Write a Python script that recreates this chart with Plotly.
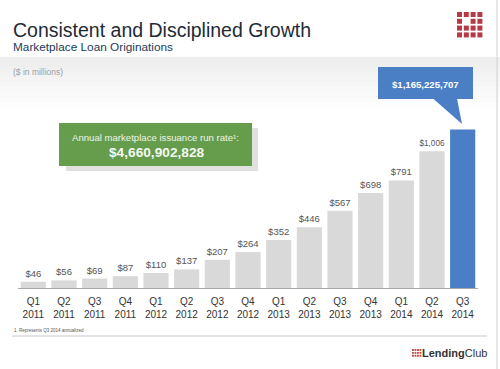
import plotly.graph_objects as go

quarters = ["Q1<br>2011", "Q2<br>2011", "Q3<br>2011", "Q4<br>2011",
            "Q1<br>2012", "Q2<br>2012", "Q3<br>2012", "Q4<br>2012",
            "Q1<br>2013", "Q2<br>2013", "Q3<br>2013", "Q4<br>2013",
            "Q1<br>2014", "Q2<br>2014", "Q3<br>2014"]
originations = [46, 56, 69, 87, 110, 137, 207, 264, 352, 446, 567, 698, 791, 1006, 1165.2]
value_labels = ["$46", "$56", "$69", "$87", "$110", "$137", "$207", "$264",
                "$352", "$446", "$567", "$698", "$791", "$1,006", ""]
bar_colors = ["#d9d9d9"] * 14 + ["#4a7fc6"]

W, H = 500, 369
L, R, T, B = 18, 22, 60, 81
PW, PH = W - L - R, H - T - B
FONT = "Liberation Sans, Arial, sans-serif"


def px(x, y):
    return (x - L) / PW, (H - B - y) / PH


fig = go.Figure()
fig.add_trace(go.Bar(
    x=quarters, y=originations, marker_color=bar_colors, marker_line_width=0,
    text=value_labels, textposition="outside", cliponaxis=False,
    textfont=dict(size=9.5, color="#555555", family=FONT),
    width=0.82, hoverinfo="skip"))

shapes = []
annotations = []

# light gray band below header
steps = 10
for i in range(steps):
    y0 = 57 + i * 5
    g = int(238 + (255 - 238) * i / steps)
    c = f"rgb({g},{g},{g})"
    x0p, y0p = px(0, y0)
    x1p, y1p = px(W, y0 + 5)
    shapes.append(dict(type="rect", xref="paper", yref="paper", x0=x0p, x1=x1p,
                       y0=y0p, y1=y1p, fillcolor=c, line_width=0, layer="below"))

# right border line
a, b0 = px(497, 0)
_, b1 = px(497, H)
shapes.append(dict(type="line", xref="paper", yref="paper", x0=a, x1=a, y0=b0, y1=b1,
                   line=dict(color="#d0d0d0", width=1)))

# header logo grid
cell, gap = 5, 1.8
for r in range(4):
    for c in range(4):
        if r == 1 and c == 1:
            continue
        x0 = 457 + c * (cell + gap)
        y0 = 12 + r * (cell + gap)
        ax0, ay0 = px(x0, y0)
        ax1, ay1 = px(x0 + cell, y0 + cell)
        shapes.append(dict(type="rect", xref="paper", yref="paper", x0=ax0, x1=ax1,
                           y0=ay1, y1=ay0, fillcolor="#b53a45", line_width=0))

# green box shadow & box
sx0, sy0 = px(66, 128)
sx1, sy1 = px(258, 171)
shapes.append(dict(type="rect", xref="paper", yref="paper", x0=sx0, x1=sx1, y0=sy1, y1=sy0,
                   fillcolor="rgba(0,0,0,0.12)", line_width=0))
gx0, gy0 = px(59, 123)
gx1, gy1 = px(252, 166)
shapes.append(dict(type="rect", xref="paper", yref="paper", x0=gx0, x1=gx1, y0=gy1, y1=gy0,
                   fillcolor="#659d4d", line_width=0))

# blue callout
bx0, by0 = px(378, 67)
bx1, by1 = px(473, 99)
shapes.append(dict(type="rect", xref="paper", yref="paper", x0=bx0, x1=bx1, y0=by1, y1=by0,
                   fillcolor="#4a7fc6", line_width=0))
p1 = px(433, 98.5)
p2 = px(457, 98.5)
p3 = px(462, 124)
shapes.append(dict(type="path", xref="paper", yref="paper",
                   path=f"M {p1[0]} {p1[1]} L {p2[0]} {p2[1]} L {p3[0]} {p3[1]} Z",
                   fillcolor="#4a7fc6", line_width=0))

# footnote rule
fx0, fy = px(12, 336)
fx1, _ = px(487, 336)
shapes.append(dict(type="line", xref="paper", yref="paper", x0=fx0, x1=fx1, y0=fy, y1=fy,
                   line=dict(color="#c8c8c8", width=1)))

# bottom logo grid
cell2, gap2 = 1.9, 0.6
for r in range(3):
    for c in range(4):
        x0 = 412 + c * (cell2 + gap2)
        y0 = 349 + r * (cell2 + gap2 + 0.4)
        ax0, ay0 = px(x0, y0)
        ax1, ay1 = px(x0 + cell2, y0 + cell2)
        shapes.append(dict(type="rect", xref="paper", yref="paper", x0=ax0, x1=ax1,
                           y0=ay1, y1=ay0, fillcolor="#c0504d", line_width=0))


def text(x, y, s, size, color, xanchor="left", yanchor="middle"):
    xp, yp = px(x, y)
    annotations.append(dict(x=xp, y=yp, xref="paper", yref="paper", text=s,
                            showarrow=False, xanchor=xanchor, yanchor=yanchor,
                            font=dict(size=size, color=color, family=FONT)))


text(11, 30, "Consistent and Disciplined Growth", 19.5, "#1e2b36")
text(11, 47, "Marketplace Loan Originations", 11.8, "#1c3b57")
text(11, 72, "($ in millions)", 8.5, "#a0a0a0")
text(155, 137, "Annual marketplace issuance run rate¹:", 9.6, "#eef4e8", "center")
text(157, 152, "<b>$4,660,902,828</b>", 13.7, "#f4f8f0", "center")
text(425, 84, "<b>$1,165,225,707</b>", 9.6, "#ffffff", "center")
text(12, 330, "1. Represents Q3 2014 annualized", 4.5, "#555555")
text(420, 353, "<b>Lending</b>Club", 11, "#333333")

fig.update_layout(
    width=W, height=H,
    margin=dict(l=L, r=R, t=T, b=B),
    paper_bgcolor="white", plot_bgcolor="rgba(0,0,0,0)",
    showlegend=False, bargap=0.18,
    shapes=shapes, annotations=annotations,
    font=dict(family=FONT),
    xaxis=dict(showline=True, linecolor="#a8a8a8", linewidth=1, ticks="",
               ticklabelstandoff=4,
               tickfont=dict(size=10, color="#333333", family=FONT),
               showgrid=False, fixedrange=True),
    yaxis=dict(range=[0, 1676], visible=False, showgrid=False, fixedrange=True),
)

fig.write_html("out.html", config={"displayModeBar": False},
               post_script="document.body.style.margin='0';document.body.style.overflow='hidden';")
